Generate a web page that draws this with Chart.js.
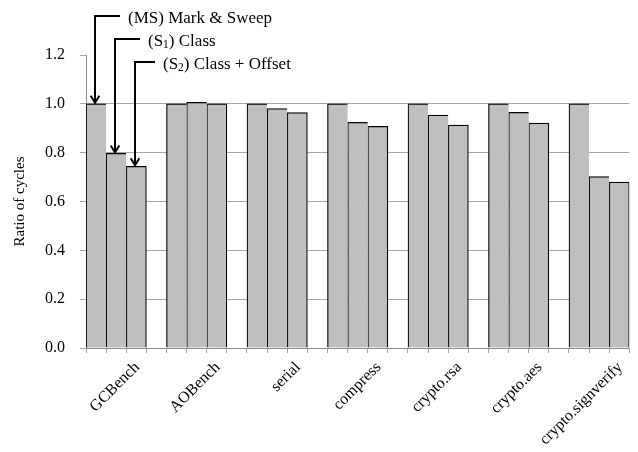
<!DOCTYPE html>
<html>
<head>
<meta charset="utf-8">
<script src="https://cdn.jsdelivr.net/npm/chart.js@4.4.1/dist/chart.umd.min.js"></script>
<style>
  html, body { margin: 0; padding: 0; background: #ffffff; }
  #wrap { width: 638px; height: 452px; }
</style>
</head>
<body>
<div id="wrap"><canvas id="c" width="638" height="452"></canvas></div>
<script>
// ---- data ----
const categories = ['GCBench', 'AOBench', 'serial', 'compress', 'crypto.rsa', 'crypto.aes', 'crypto.signverify'];
const markSweep   = [1.000, 1.000, 1.000, 1.000, 1.000, 1.000, 1.000];
const classOnly   = [0.797, 1.006, 0.981, 0.924, 0.954, 0.965, 0.702];
const classOffset = [0.744, 1.000, 0.964, 0.908, 0.913, 0.921, 0.680];
const seriesNames = ['(MS) Mark & Sweep', '(S1) Class', '(S2) Class + Offset'];
const yMin = 0, yMax = 1.2, yStep = 0.2;

// ---- build slot table: 3 bars per group, one empty slot between groups ----
const series = [markSweep, classOnly, classOffset];
const slotLabels = [];
const slotData = [[], [], []];
categories.forEach((cat, g) => {
  for (let s = 0; s < 3; s++) {
    slotLabels.push(s === 1 ? cat : '');
    for (let d = 0; d < 3; d++) slotData[d].push(d === s ? series[d][g] : null);
  }
  if (g < categories.length - 1) {
    slotLabels.push('');
    for (let d = 0; d < 3; d++) slotData[d].push(null);
  }
});

const GRID = '#a6a6a6';
const AXIS = '#8c8c8c';
const SERIF = "'Liberation Serif', 'Times New Roman', serif";

const annotate = {
  id: 'annotate',
  afterDatasetsDraw(chart) {
    const ctx = chart.ctx;
    const specs = [
      { ds: 0, idx: 0, lineY: 16, xEnd: 120, parts: [['(MS) Mark & Sweep', false]] },
      { ds: 1, idx: 1, lineY: 39, xEnd: 140, parts: [['(S', false], ['1', true], [') Class', false]] },
      { ds: 2, idx: 2, lineY: 62, xEnd: 155, parts: [['(S', false], ['2', true], [') Class + Offset', false]] }
    ];
    ctx.save();
    ctx.strokeStyle = '#000';
    ctx.fillStyle = '#000';
    ctx.lineWidth = 2;
    specs.forEach(sp => {
      const el = chart.getDatasetMeta(sp.ds).data[sp.idx];
      const x = Math.round(el.x) - 1;
      const yBar = el.y;
      ctx.beginPath();
      ctx.moveTo(sp.xEnd, sp.lineY);
      ctx.lineTo(x - 1, sp.lineY);
      ctx.moveTo(x, sp.lineY - 1);
      ctx.lineTo(x, yBar - 2);
      ctx.stroke();
      ctx.beginPath();
      ctx.moveTo(x - 4.3, yBar - 8);
      ctx.lineTo(x, yBar - 1);
      ctx.lineTo(x + 4.3, yBar - 8);
      ctx.stroke();
      let tx = sp.xEnd + 8;
      const base = sp.lineY + 6.5;
      ctx.textBaseline = 'alphabetic';
      ctx.textAlign = 'left';
      sp.parts.forEach(([t, sub]) => {
        ctx.font = (sub ? '11.5px ' : '17px ') + SERIF;
        ctx.fillText(t, tx, sub ? base + 2.7 : base);
        tx += ctx.measureText(t).width;
      });
    });
    ctx.restore();
  }
};

const mkDataset = (d) => ({
  label: seriesNames[d],
  data: slotData[d],
  backgroundColor: '#bfbfbf',
  borderColor: '#000000',
  borderWidth: d === 2 ? { top: 1.3, left: 1.2, right: 1.2, bottom: 0 } : { top: 1.3, left: 1.2, right: 0, bottom: 0 },
  borderSkipped: false,
  barPercentage: 1,
  categoryPercentage: 1,
  grouped: false
});

new Chart(document.getElementById('c'), {
  type: 'bar',
  data: { labels: slotLabels, datasets: [mkDataset(0), mkDataset(1), mkDataset(2)] },
  options: {
    responsive: false,
    devicePixelRatio: 1,
    animation: false,
    layout: { padding: { top: 55, right: 7, bottom: 0, left: 0 } },
    plugins: { legend: { display: false }, tooltip: { enabled: false } },
    scales: {
      x: {
        offset: true,
        afterFit: s => { s.height = 104; },
        grid: { offset: true, drawOnChartArea: false, drawTicks: true, tickLength: 5, color: GRID },
        border: { color: AXIS },
        ticks: {
          autoSkip: false, minRotation: 45, maxRotation: 45,
          labelOffset: 21, padding: 5,
          color: '#000', font: { family: SERIF, size: 16 }
        }
      },
      y: {
        min: yMin, max: yMax,
        afterFit: s => { s.width = 86; },
        grid: {
          color: c => (c.tick && Math.abs(c.tick.value - yMax) < 1e-6) ? 'rgba(0,0,0,0)' : GRID,
          tickColor: GRID, tickLength: 6
        },
        border: { color: AXIS },
        ticks: {
          stepSize: yStep, padding: 15, color: '#000',
          font: { family: SERIF, size: 16 },
          callback: v => Number(v).toFixed(1)
        },
        title: {
          display: true, text: 'Ratio of cycles', color: '#000',
          font: { family: SERIF, size: 15 }, padding: { top: 11, bottom: 0 }
        }
      }
    }
  },
  plugins: [annotate]
});
</script>
</body>
</html>
